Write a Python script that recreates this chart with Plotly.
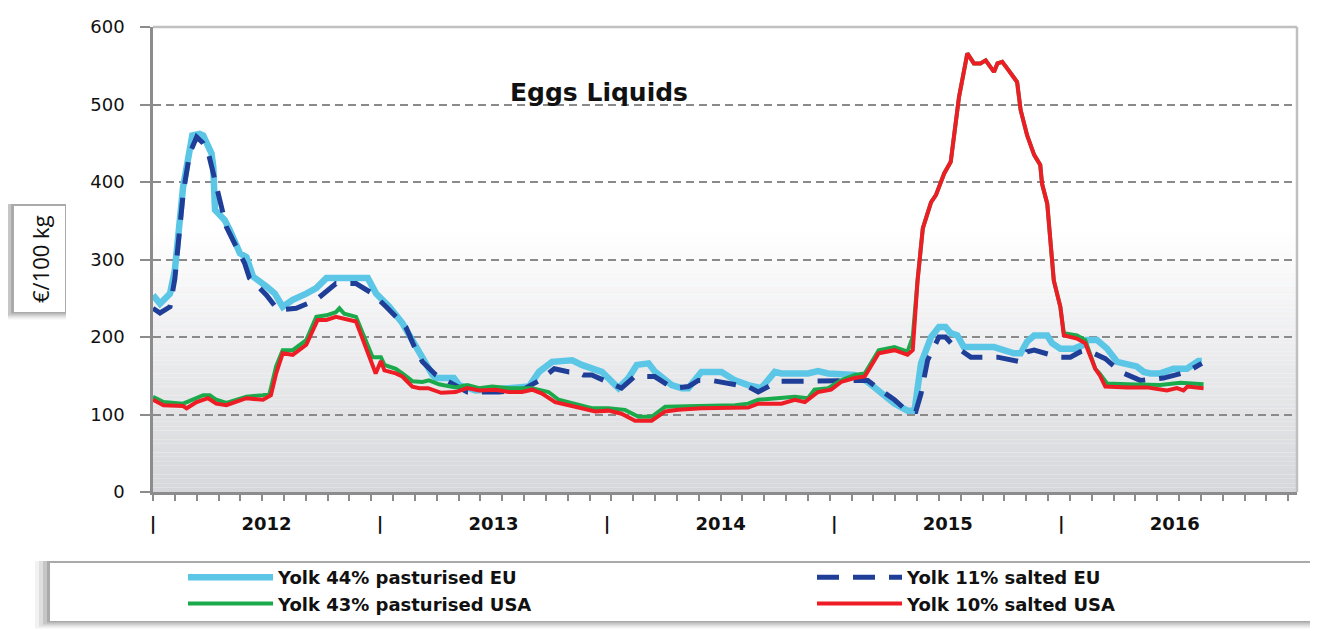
import plotly.graph_objects as go

# ---------------- data (week index from start of 2012, value in EUR/100 kg) ----------------
eu44_weeks = [0, 1.6, 3.9, 5, 6.9, 9, 10.7, 11.5, 13.4, 13.8,
              14.2, 16.4, 17.6, 19.9, 21.4, 22.9, 26, 27.9, 29.7, 32,
              35.1, 37.4, 39.7, 49.2, 51.1, 54.1, 57.1, 59.4, 61, 62.5,
              64, 64.8, 68.9, 70.1, 73.9, 81.5, 86.1, 88.4, 91.4, 96,
              98.2, 102.8, 105.1, 106.6, 108.9, 110.8, 113.5, 115, 118.8, 121.1,
              122.6, 125.6, 130.2, 133.3, 136.3, 139.3, 142.4, 143.9, 150, 152.3,
              154.6, 160.7, 163.7, 166.7, 169.8, 172.8, 174.4, 175.9, 177.4, 178.2,
              180, 181.5, 182.7, 184.2, 185.7, 192.6, 197.2, 198.7, 200.2, 201.8,
              204.8, 205.9, 207.8, 210.9, 213.2, 213.9, 216.2, 218.5, 220.8, 223.1,
              225.3, 226.9, 228.4, 230.7, 233.7, 236.8, 239.4, 240.2]
eu44_values = [254, 243, 256, 286, 394, 460, 462, 460, 437, 420,
               364, 351, 338, 308, 303, 278, 265, 256, 239, 248,
               256, 263, 276, 276, 256, 239, 218, 196, 179, 165,
               151, 147, 147, 138, 131, 134, 136, 155, 168, 170,
               164, 155, 142, 134, 147, 164, 166, 155, 138, 134,
               134, 155, 155, 144, 138, 134, 155, 153, 153, 156,
               153, 151, 142, 127, 114, 105, 105, 166, 187, 200,
               213, 213, 205, 202, 187, 187, 179, 179, 194, 202,
               202, 192, 185, 185, 190, 196, 196, 185, 168, 166,
               162, 155, 153, 153, 159, 159, 169, 169]

eu11_weeks = [0, 1.6, 3.9, 5, 6.9, 8.4, 10, 11.5, 12.6, 14.5,
              15.3, 16.8, 19.1, 21, 22.1, 26, 28.6, 32.8, 37.4, 41.2,
              41.9, 46.5, 50.3, 53.4, 57.9, 60.2, 61.7, 64.8, 68.9, 72,
              79.2, 85, 88.5, 91.9, 95.3, 97.2, 98.6, 100.5, 107.3, 110.3,
              114.9, 117.9, 119.6, 122.6, 124.9, 127.9, 134, 136.3, 138.6, 143.2,
              148.5, 154.6, 159.9, 163.7, 166, 169.8, 172.8, 174.7, 175.9, 176.7,
              177.4, 180, 181.5, 183.1, 187.3, 193.4, 198.7, 200.2, 201.8, 207.5,
              210.1, 212.4, 213.9, 218.1, 220.8, 221.6, 226.1, 231.4, 236.8, 240.2]
eu11_values = [237, 231, 239, 275, 385, 437, 458, 450, 439, 394,
               372, 342, 316, 295, 276, 254, 235, 237, 248, 265,
               269, 269, 256, 239, 213, 183, 168, 151, 138, 129,
               129, 133, 144, 159, 155, 155, 151, 151, 134, 149,
               149, 138, 134, 136, 144, 144, 138, 136, 129, 143,
               143, 144, 144, 144, 134, 119, 104, 104, 127, 155,
               170, 200, 200, 190, 174, 174, 168, 181, 183, 174,
               174, 181, 183, 172, 159, 155, 144, 147, 155, 166]

usa43_weeks = [0, 2.4, 6.9, 11.5, 13, 14.5, 16.8, 21.4, 25.2, 26.7,
               28.2, 29.7, 32, 35.1, 37.4, 39.7, 41.9, 42.7, 43.8, 46.5,
               50.3, 52.2, 53, 55.6, 57.1, 59.4, 61.7, 63.2, 65.5, 69.3,
               72, 74.7, 77.7, 81.5, 86.8, 90.6, 92.9, 96.7, 100.5, 104.3,
               108.1, 111.2, 114.2, 117.3, 120.3, 124.9, 133.3, 136.3, 138.6, 143.9,
               147, 150, 151.5, 154.6, 157.6, 160.7, 163, 166.2, 169.8, 172.8,
               174, 175.1, 176.3, 178.2, 179.3, 181.2, 182.7, 184.6, 186.5, 188,
               189.5, 190.7, 192.6, 193.4, 194.5, 196, 197.9, 198.7, 200.2, 201.8,
               203.2, 203.6, 204.8, 206.3, 207.8, 208.6, 211.6, 213.5, 215, 215.8,
               216.8, 218.5, 223.1, 227.6, 230.7, 235.3, 240.6]
usa43_values = [123, 116, 114, 125, 125, 119, 115, 123, 125, 127,
                162, 183, 183, 196, 226, 228, 232, 237, 230, 226,
                174, 174, 164, 159, 153, 143, 142, 144, 139, 135,
                138, 134, 136, 134, 134, 129, 119, 114, 108, 108,
                106, 97, 97, 110, 110, 111, 112, 114, 119, 121,
                123, 121, 132, 134, 144, 151, 153, 183, 187, 181,
                200, 273, 340, 374, 383, 411, 426, 510, 566, 553,
                553, 557, 542, 553, 555, 544, 529, 493, 460, 435,
                422, 398, 372, 273, 239, 205, 202, 196, 172, 159,
                153, 140, 139, 138, 138, 141, 139]

usa10_weeks = [0, 2.4, 6.9, 7.7, 10, 12.6, 14.5, 16.8, 21.4, 25.2,
               27, 28.2, 29.7, 32, 35.1, 37.7, 39.7, 41.9, 45, 46.5,
               51, 52.2, 53, 55.6, 57.1, 59.4, 61, 63, 66, 69.3,
               72, 74.7, 78.4, 81.5, 84.5, 86.8, 89.1, 92.1, 96.7, 101.3,
               104.3, 107.3, 110.4, 114.2, 117.3, 120.3, 125.6, 130.9, 136.3, 138.6,
               143.9, 147, 149.3, 152.3, 155.3, 157.6, 160.7, 163, 166.2, 169.8,
               172.8, 174, 175.1, 176.3, 178.2, 179.3, 181.2, 182.7, 184.6, 186.5,
               188, 189.5, 190.7, 192.6, 193.4, 194.5, 196, 197.9, 198.7, 200.2,
               201.8, 203.2, 203.6, 204.8, 206.3, 207.8, 208.6, 211.6, 213.5, 215,
               215.8, 216.8, 218.1, 223.1, 227.6, 232.2, 234.5, 236, 236.9, 240.6]
usa10_values = [119, 112, 111, 108, 116, 121, 114, 112, 121, 119,
                125, 153, 179, 177, 190, 222, 222, 226, 222, 220,
                153, 169, 157, 153, 149, 136, 134, 134, 128, 129,
                134, 131, 132, 129, 129, 132, 127, 116, 110, 104,
                105, 101, 92, 92, 104, 106, 108, 108, 109, 114,
                114, 119, 116, 129, 132, 142, 147, 149, 179, 183,
                177, 183, 273, 340, 374, 383, 411, 426, 510, 566,
                553, 553, 557, 542, 553, 555, 544, 529, 493, 460,
                435, 422, 398, 372, 273, 239, 202, 198, 192, 172,
                159, 151, 136, 135, 135, 131, 134, 131, 136, 134]

year_tick_weeks = [0, 26, 52, 78, 104, 130, 156, 182, 208, 234]
year_tick_text = ["|", "2012", "|", "2013", "|", "2014", "|", "2015", "|", "2016"]
y_ticks = [0, 100, 200, 300, 400, 500, 600]

series_names = ["Yolk 44% pasturised EU", "Yolk 11% salted EU",
                "Yolk 43% pasturised USA", "Yolk 10% salted USA"]

# ---------------- layout helpers (page pixel coordinates; page has an 8px body margin) ----------------
PAGE_W, PAGE_H = 1318, 631
OFF = 8
W, H = PAGE_W - OFF, PAGE_H - OFF
L, R, T, B = 153, 1297, 27, 492   # plot area in page pixels
FONT = "DejaVu Sans"


def px(xp):
    return (xp - L) / (R - L)


def py(yp):
    return (B - yp) / (B - T)


fig = go.Figure()

fig.add_trace(go.Scatter(x=eu44_weeks, y=eu44_values, mode="lines", name="<b>" + series_names[0] + "</b>",
                         line=dict(color="#5BC6E6", width=6.5), legend="legend", legendgroup="a"))
fig.add_trace(go.Scatter(x=eu11_weeks, y=eu11_values, mode="lines", name="<b>" + series_names[1] + "</b>",
                         line=dict(color="#1F3E98", width=5, dash="22px,14px"), legend="legend2", legendgroup="b"))
fig.add_trace(go.Scatter(x=usa43_weeks, y=usa43_values, mode="lines", name="<b>" + series_names[2] + "</b>",
                         line=dict(color="#1BAA4B", width=4), legend="legend", legendgroup="c"))
fig.add_trace(go.Scatter(x=usa10_weeks, y=usa10_values, mode="lines", name="<b>" + series_names[3] + "</b>",
                         line=dict(color="#EE1D25", width=4), legend="legend2", legendgroup="d"))

shapes = []
# background gradient (white at top -> grey at bottom)
n = 60
top_val = 340.0
c_top = (255, 255, 255)
c_bot = (214, 215, 219)
for i in range(n):
    y0 = top_val * i / n
    y1 = top_val * (i + 1) / n
    t = (i + 0.5) / n
    c = tuple(int(round(c_bot[k] + (c_top[k] - c_bot[k]) * t)) for k in range(3))
    shapes.append(dict(type="rect", xref="paper", yref="y", x0=0, x1=1, y0=y0, y1=y1,
                       fillcolor="rgb(%d,%d,%d)" % c, line=dict(width=0), layer="below"))

# title box hiding the grid line
shapes.append(dict(type="rect", xref="paper", yref="paper", x0=px(432), x1=px(768), y0=py(112), y1=py(72),
                   fillcolor="white", line=dict(width=0), layer="between"))
# top and right border
shapes.append(dict(type="line", xref="paper", yref="paper", x0=0, x1=1, y0=1, y1=1,
                   line=dict(color="#c0c0c0", width=2.5), layer="above"))
shapes.append(dict(type="line", xref="paper", yref="paper", x0=1, x1=1, y0=0, y1=1,
                   line=dict(color="#c0c0c0", width=2.5), layer="above"))


def shadow_box(x0, y0, x1, y1):
    out = []
    for d, a in [(15, 0.05), (11, 0.08), (7, 0.11), (3, 0.14)]:
        out.append(dict(type="rect", xref="paper", yref="paper",
                        x0=px(x0 - d), x1=px(x1 + 1), y0=py(y1 + d * 0.5), y1=py(y0 - 2),
                        fillcolor="rgba(0,0,0,%.2f)" % a, line=dict(width=0), layer="above"))
    out.append(dict(type="rect", xref="paper", yref="paper", x0=px(x0), x1=px(x1), y0=py(y1), y1=py(y0),
                    fillcolor="white", line=dict(width=0), layer="above"))
    return out


# y-axis title box and legend box
shapes += shadow_box(14, 206, 65, 312)
shapes += shadow_box(50, 563, 1310, 621)

annotations = [
    dict(text="<b>Eggs Liquids</b>", x=px(599), y=py(92), xref="paper", yref="paper", showarrow=False,
         xanchor="center", yanchor="middle",
         font=dict(family=FONT, size=25, color="#111111")),
    dict(text="€/100 kg", x=px(40), y=py(259), xref="paper", yref="paper", showarrow=False, textangle=-90,
         xanchor="center", yanchor="middle",
         font=dict(family="Open Sans", size=22, color="#111111")),
]

fig.update_layout(
    width=W, height=H,
    margin=dict(l=L - OFF, r=PAGE_W - R, t=T - OFF, b=PAGE_H - B, autoexpand=False),
    paper_bgcolor="white", plot_bgcolor="white",
    shapes=shapes, annotations=annotations,
    showlegend=True,
    legend=dict(x=px(183), y=py(559), xanchor="left", yanchor="top", orientation="v",
                bgcolor="rgba(0,0,0,0)", itemwidth=85, tracegroupgap=0,
                font=dict(family=FONT, size=18, color="#111111")),
    legend2=dict(x=px(812), y=py(559), xanchor="left", yanchor="top", orientation="v",
                 bgcolor="rgba(0,0,0,0)", itemwidth=85, tracegroupgap=0,
                 font=dict(family=FONT, size=18, color="#111111")),
    xaxis=dict(range=[0, 262], showgrid=False, zeroline=False,
               showline=True, linecolor="#8c8c8c", linewidth=2.5,
               tickmode="array", tickvals=year_tick_weeks,
               ticktext=["<b>" + t + "</b>" for t in year_tick_text],
               ticks="", ticklabelstandoff=14,
               tickfont=dict(family=FONT, size=18, color="#111111"),
               minor=dict(ticks="outside", tick0=0, dtick=5, ticklen=6, tickwidth=2,
                          tickcolor="#8c8c8c", showgrid=False)),
    yaxis=dict(range=[0, 600], tickmode="array", tickvals=y_ticks, zeroline=False,
               showline=True, linecolor="#8c8c8c", linewidth=2.5,
               ticks="outside", ticklen=10, tickwidth=2, tickcolor="#8c8c8c",
               showgrid=True, gridcolor="#8a8a8a", gridwidth=1.6, griddash="8px,5px",
               ticklabelstandoff=12,
               tickfont=dict(family=FONT, size=18, color="#111111")),
)

fig.write_html("out.html")
